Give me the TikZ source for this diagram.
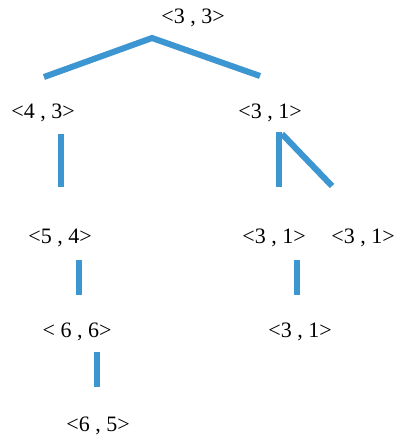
\documentclass[tikz,border=0pt]{standalone}
\usepackage{fontspec}
\setmainfont{Liberation Serif}
\definecolor{branch}{RGB}{60,150,210}
\begin{document}
\begin{tikzpicture}[x=1pt,y=-1pt,
  pair/.style={inner sep=0pt, font=\fontsize{22}{26}\selectfont},
  edge/.style={line width=6pt, draw=branch, line cap=butt},
  edgeshadow/.style={line width=6pt, draw=black, opacity=0.12, line cap=butt, shift={(1.5,2)}}]
\useasboundingbox (0,0) rectangle (398,441);

% state labels
\node[pair] (s33)  at (193,18)  {<3 , 3>};
\node[pair] (s43)  at (43,113)  {<4 , 3>};
\node[pair] (s31)  at (270,113) {<3 , 1>};
\node[pair] (s54)  at (60,238)  {<5 , 4>};
\node[pair] (s31a) at (274,238) {<3 , 1>};
\node[pair] (s31b) at (363,238) {<3 , 1>};
\node[pair] (s66)  at (77,332)  {< 6 , 6>};
\node[pair] (s31c) at (300,332) {<3 , 1>};
\node[pair] (s65)  at (98,426)  {<6 , 5>};

% branch end points
\coordinate (peak) at (152,38);
\coordinate (l1)   at (44,77);
\coordinate (r1)   at (260,76);
\coordinate (a1)   at (61,134);  \coordinate (a2) at (61,187);
\coordinate (b1)   at (279,132); \coordinate (b2) at (279,187);
\coordinate (c1)   at (282,134); \coordinate (c2) at (332,186);
\coordinate (d1)   at (79,260);  \coordinate (d2) at (79,295);
\coordinate (e1)   at (297,260); \coordinate (e2) at (297,295);
\coordinate (f1)   at (97,352);  \coordinate (f2) at (97,387);

% soft shadows under the branches
\draw[edgeshadow] (l1) -- (peak) -- (r1);
\foreach \p/\q in {a1/a2,b1/b2,c1/c2,d1/d2,e1/e2,f1/f2}
  \draw[edgeshadow] (\p) -- (\q);

% branches
\draw[edge, line join=miter] (l1) -- (peak) -- (r1);
\foreach \p/\q in {a1/a2,b1/b2,c1/c2,d1/d2,e1/e2,f1/f2}
  \draw[edge] (\p) -- (\q);
\end{tikzpicture}
\end{document}
